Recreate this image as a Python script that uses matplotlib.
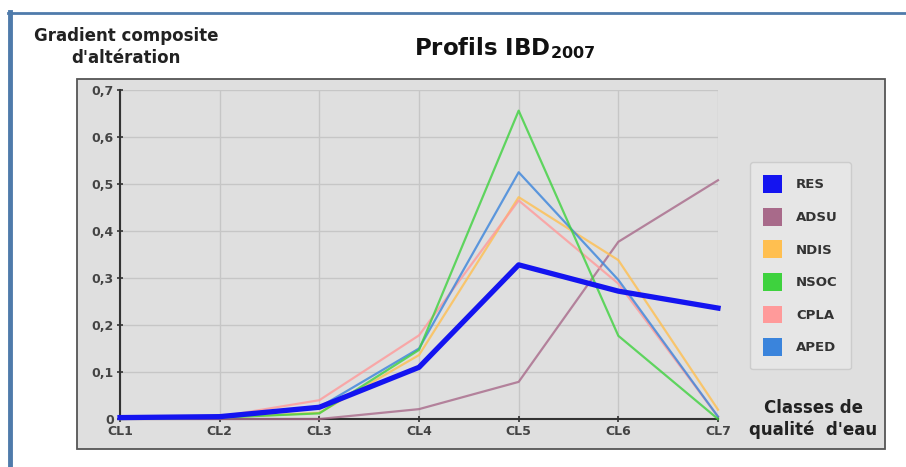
import matplotlib.pyplot as plt
from matplotlib.patches import Patch, Rectangle
from matplotlib.lines import Line2D

# data
classes = ['CL1', 'CL2', 'CL3', 'CL4', 'CL5', 'CL6', 'CL7']
y_ticks = [0, 0.1, 0.2, 0.3, 0.4, 0.5, 0.6, 0.7]
y_labels = ['0', '0,1', '0,2', '0,3', '0,4', '0,5', '0,6', '0,7']

res = [0.003, 0.005, 0.025, 0.110, 0.328, 0.272, 0.236]
adsu = [0.000, 0.000, 0.000, 0.021, 0.079, 0.377, 0.508]
ndis = [0.000, 0.003, 0.013, 0.136, 0.472, 0.338, 0.020]
nsoc = [0.000, 0.003, 0.012, 0.147, 0.656, 0.177, 0.000]
cpla = [0.002, 0.005, 0.040, 0.178, 0.465, 0.288, 0.005]
aped = [0.002, 0.004, 0.025, 0.150, 0.525, 0.296, 0.005]

names = ['RES', 'ADSU', 'NDIS', 'NSOC', 'CPLA', 'APED']
series = [res, adsu, ndis, nsoc, cpla, aped]
colors = ['#1414f0', '#a86a8a', '#ffbf50', '#3ed23e', '#ff9a9a', '#3a84dc']

plt.rcParams['font.family'] = ['DejaVu Sans']

W, H = 906, 467
fig = plt.figure(figsize=(W / 100, H / 100), dpi=100)
fig.patch.set_facecolor('white')

# outer blue frame (top + left)
fig.add_artist(Line2D([8 / W, 1], [1 - 13 / H, 1 - 13 / H], color='#4f7bab',
                      lw=2, zorder=-2))
fig.add_artist(Line2D([10 / W, 10 / W], [0, 1 - 12 / H], color='#4f7bab',
                      lw=3.5, zorder=-2))

# gray panel behind the plot
fig.add_artist(Rectangle((77 / W, 1 - 449 / H), 808 / W, 370 / H,
                         facecolor='#dfdfdf', edgecolor='#555555', lw=1.3,
                         zorder=-1))

ax = fig.add_axes([120 / W, 1 - 419 / H, 598 / W, 329 / H])
ax.set_facecolor('#dfdfdf')
x = list(range(len(classes)))

order = [1, 2, 4, 5, 3, 0]
for i in order:
    lw = 3.8 if names[i] == 'RES' else 1.6
    alpha = 1.0 if names[i] == 'RES' else 0.8
    ax.plot(x, series[i], color=colors[i], lw=lw, alpha=alpha,
            solid_joinstyle='round', clip_on=False, zorder=3 + (i == 0))

ax.set_xlim(0, 6)
ax.set_ylim(0, 0.7)
ax.set_xticks(x)
ax.set_xticklabels(classes)
ax.set_yticks(y_ticks)
ax.set_yticklabels(y_labels)
ax.grid(True, color='#c6c6c6', lw=1)
ax.set_axisbelow(True)
for s in ['top', 'right']:
    ax.spines[s].set_visible(False)
for s in ['left', 'bottom']:
    ax.spines[s].set_color('#333333')
    ax.spines[s].set_linewidth(1.5)
ax.tick_params(direction='inout', length=5, width=1.2, color='#333333',
               labelcolor='#444444', labelsize=9, pad=2)
for t in ax.get_xticklabels() + ax.get_yticklabels():
    t.set_fontweight('bold')

handles = [Patch(facecolor=c, edgecolor='none') for c in colors]
leg = fig.legend(handles, names, loc='upper left',
                 bbox_to_anchor=(750 / W, 1 - 162 / H),
                 fontsize=9.5, handlelength=1.4, handleheight=1.7,
                 handletextpad=1.1, labelspacing=1.12, borderpad=1.0,
                 borderaxespad=0, frameon=True, fancybox=True)
leg.get_frame().set_facecolor('#e6e6e6')
leg.get_frame().set_edgecolor('#cccccc')
leg.get_frame().set_alpha(1)
for t in leg.get_texts():
    t.set_fontweight('bold')
    t.set_color('#333333')

fig.text(126 / W, 1 - 27 / H, "Gradient composite\nd'altération", ha='center',
         va='top', fontsize=12, fontweight='bold', color='#222222',
         linespacing=1.3)
fig.text(505 / W, 1 - 48 / H, r'Profils IBD$_{\mathbf{2007}}$', ha='center',
         va='center', fontsize=16.5, fontweight='bold', color='#111111')
fig.text(813 / W, 1 - 419 / H, "Classes de\nqualité  d'eau", ha='center',
         va='center', fontsize=12, fontweight='bold', color='#222222',
         linespacing=1.3)

fig.savefig('out.png', dpi=100)
